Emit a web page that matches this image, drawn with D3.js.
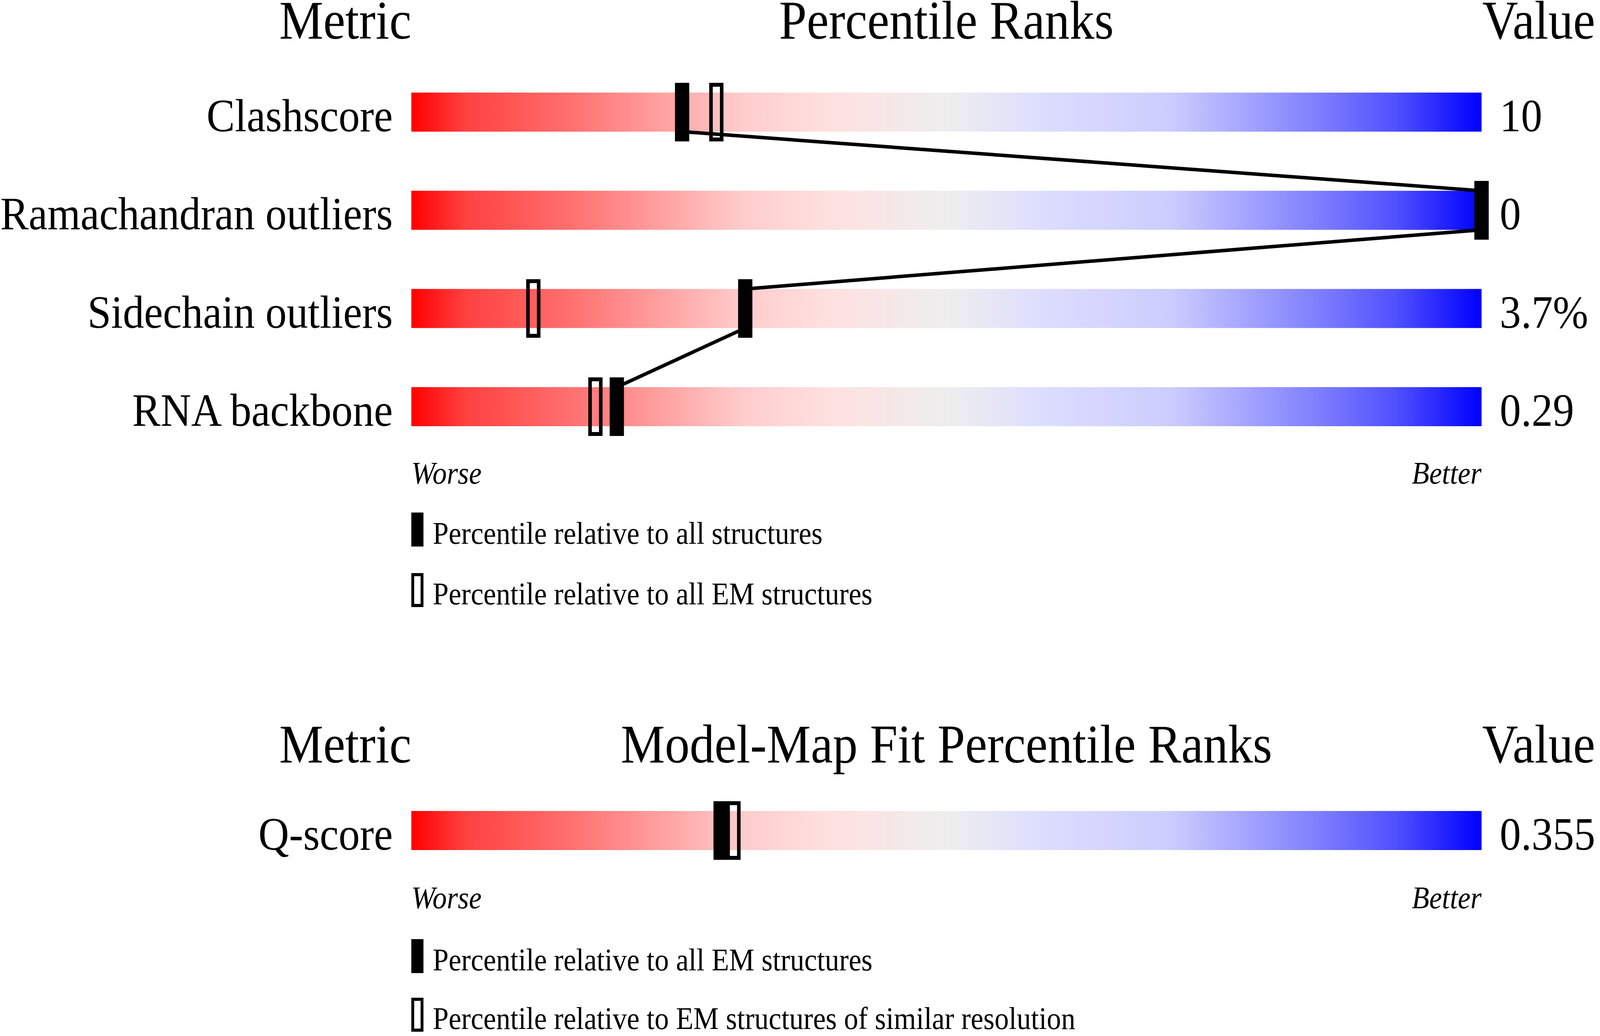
<!DOCTYPE html>
<html lang="en">
<head>
	<meta charset="UTF-8">
	<title>Percentile Ranks</title>
	<script src="https://cdn.jsdelivr.net/npm/d3@7"></script>
	<style>
		html, body { margin: 0; padding: 0; background: #fff; overflow: hidden; }
		svg { display: block; }
		text { font-family: "Liberation Serif", "Times New Roman", serif; fill: #000; }
	</style>
</head>
<body>
	<div id="container"></div>
	<script>
		// geometry quality metrics
		var metrics = ["Clashscore", "Ramachandran outliers", "Sidechain outliers", "RNA backbone"];
		var metricValues = ["10", "0", "3.7%", "0.29"];
		var pctAll = [25.3, 100, 31.2, 19.2];
		var pctEM = [28.5, 100, 11.4, 17.2];

		// model-map fit
		var fitMetrics = ["Q-score"];
		var fitValues = ["0.355"];
		var fitPctAllEM = [28.9];
		var fitPctSimilar = [30.1];

		var legendTop = ["Percentile relative to all structures", "Percentile relative to all EM structures"];
		var legendBottom = ["Percentile relative to all EM structures", "Percentile relative to EM structures of similar resolution"];

		var width = 4485;
		var height = 2652;
		var barLeft = 1153, barRight = 4153, barH = 100;
		var markW = 40, markH = 150, openStroke = 10;

		// drawing is laid out on a 4485x2652 grid and stretched over the window
		var svg = d3.select("#container").append("svg")
				.attr("viewBox", "0 0 " + width + " " + height)
				.attr("preserveAspectRatio", "none")
				.style("width", "100vw")
				.style("height", "100vh");

		var defs = svg.append("defs");
		var grad = defs.append("linearGradient").attr("id", "slider")
				.attr("x1", "0%").attr("x2", "100%").attr("y1", "0%").attr("y2", "0%");
		var stops = [
			[0, "#ff0000"], [0.05, "#ff4040"], [0.15, "#ff7070"], [0.25, "#ffaaaa"],
			[0.31, "#ffcccc"], [0.39, "#ffe0e0"], [0.5, "#eeeeee"], [0.59, "#ddddff"],
			[0.71, "#ccccff"], [0.8, "#9999ff"], [0.86, "#7777ff"], [0.92, "#5050ff"], [1, "#0000ff"]
		];
		grad.selectAll("stop").data(stops)
			.enter().append("stop")
				.attr("offset", d => d[0])
				.attr("stop-color", d => d[1]);

		var x = d3.scaleLinear().domain([0, 100]).range([barLeft, barRight]);

		function panel(opts) {
			var g = svg.append("g");
			var y = d3.scalePoint().domain(opts.metrics).range(opts.yRange);

			// headers
			g.append("text").attr("x", barLeft).attr("y", opts.headY)
				.attr("text-anchor", "end").style("font-size", "139px").text("Metric");
			g.append("text").attr("x", (barLeft + barRight) / 2).attr("y", opts.headY)
				.attr("text-anchor", "middle").style("font-size", "139px").text(opts.title);
			g.append("text").attr("x", barRight + 2).attr("y", opts.headY)
				.style("font-size", "139px").text("Value");

			// bars
			g.selectAll(".bar").data(opts.metrics)
				.enter().append("rect")
					.attr("x", barLeft)
					.attr("y", d => y(d) - barH / 2)
					.attr("width", barRight - barLeft)
					.attr("height", barH)
					.attr("fill", "url(#slider)");

			g.selectAll(".label").data(opts.metrics)
				.enter().append("text")
					.attr("x", barLeft - 52)
					.attr("y", d => y(d) + 49)
					.attr("text-anchor", "end")
					.style("font-size", "119px")
					.text(d => d);

			g.selectAll(".value").data(opts.values)
				.enter().append("text")
					.attr("x", barRight + 51)
					.attr("y", (d, i) => y(opts.metrics[i]) + 49)
					.style("font-size", "119px")
					.text(d => d);

			// open markers
			g.selectAll(".open").data(opts.open)
				.enter().append("rect")
					.attr("x", d => x(d) - markW / 2 + openStroke / 2)
					.attr("y", (d, i) => y(opts.metrics[i]) - markH / 2 + openStroke / 2)
					.attr("width", markW - openStroke)
					.attr("height", markH - openStroke)
					.attr("fill", "none")
					.attr("stroke", "#000")
					.attr("stroke-width", openStroke);

			// connecting line through filled markers
			if (opts.filled.length > 1) {
				var pts = [];
				opts.filled.forEach((p, i) => {
					var cy = y(opts.metrics[i]);
					pts.push([x(p), cy - barH / 2]);
					pts.push([x(p), cy + barH / 2]);
				});
				g.append("path")
					.attr("d", d3.line()(pts))
					.attr("fill", "none")
					.attr("stroke", "#000")
					.attr("stroke-width", 9);
			}

			g.selectAll(".filled").data(opts.filled)
				.enter().append("rect")
					.attr("x", d => x(d) - markW / 2)
					.attr("y", (d, i) => y(opts.metrics[i]) - markH / 2)
					.attr("width", markW)
					.attr("height", markH)
					.attr("fill", "#000");

			g.append("text").attr("x", barLeft).attr("y", opts.worseY)
				.style("font-size", "80px").style("font-style", "italic").text("Worse");
			g.append("text").attr("x", barRight).attr("y", opts.worseY)
				.attr("text-anchor", "end")
				.style("font-size", "80px").style("font-style", "italic").text("Better");

			// legend
			var lg = g.selectAll(".legend").data(opts.legend)
				.enter().append("g")
					.attr("transform", (d, i) => "translate(0," + opts.legendY[i] + ")");
			lg.append("rect")
				.attr("x", (d, i) => i == 0 ? barLeft : barLeft + 4)
				.attr("y", (d, i) => i == 0 ? -80 : -76)
				.attr("width", (d, i) => i == 0 ? 34 : 26)
				.attr("height", (d, i) => i == 0 ? 87 : 79)
				.attr("fill", (d, i) => i == 0 ? "#000" : "none")
				.attr("stroke", (d, i) => i == 0 ? "none" : "#000")
				.attr("stroke-width", 8);
			lg.append("text")
				.attr("x", barLeft + 60)
				.style("font-size", "80px")
				.text(d => d);
		}

		panel({
			metrics: metrics, values: metricValues, filled: pctAll, open: pctEM,
			title: "Percentile Ranks", headY: 99, yRange: [287, 1041],
			worseY: 1238, legend: legendTop, legendY: [1392, 1547]
		});

		panel({
			metrics: fitMetrics, values: fitValues, filled: fitPctAllEM, open: fitPctSimilar,
			title: "Model-Map Fit Percentile Ranks", headY: 1952, yRange: [2126, 2126],
			worseY: 2325, legend: legendBottom, legendY: [2484, 2634]
		});
	</script>
</body>
</html>
